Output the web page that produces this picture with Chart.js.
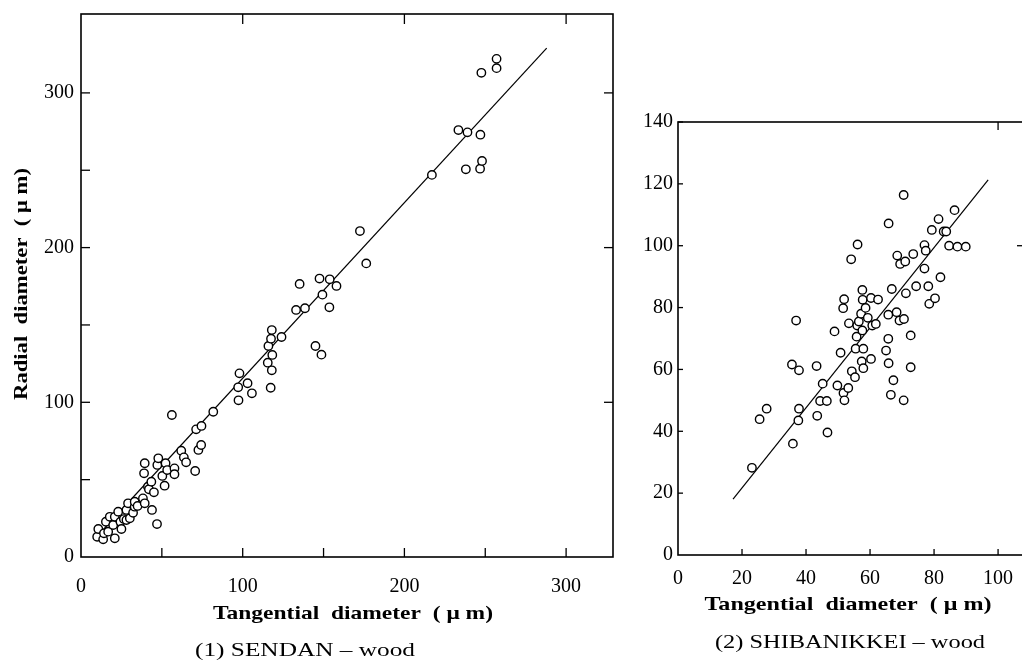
<!DOCTYPE html>
<html><head><meta charset="utf-8">
<script src="https://cdn.jsdelivr.net/npm/chart.js@4/dist/chart.umd.min.js"></script>
<style>
html,body{margin:0;padding:0;background:#fff;width:1022px;height:666px;overflow:hidden;position:relative}
#c1{position:absolute;left:0;top:0}
#c2{position:absolute;left:640px;top:0}
</style></head><body>
<canvas id="c1" width="640" height="666"></canvas>
<canvas id="c2" width="386" height="666"></canvas>
<script>
// ---- (1) SENDAN-wood : [tangential, radial] in µm ----
const sendanPoints = [
 [10,13.1],[10.7,18.1],[13.7,11.4],[14.2,15.3],[15.4,22.8],[16.8,16.4],[17.8,26],[19.9,20.7],
 [20.9,12.1],[20.9,26],[23,29.3],[24.4,22.8],[25,18.1],[26.5,24.5],[28.1,23.9],[28.1,30.4],
 [29.1,34.7],[30.2,25],[32.2,28.6],[33.2,32.5],[33.2,35.7],[35,33],[38.3,37.9],[39,54.1],
 [39.4,60.6],[39.4,34.7],[41.4,45.4],[42,43.8],[43.5,48.7],[43.9,30.4],[45.1,41.8],[47,21.3],
 [47.2,59.5],[47.8,63.8],[50.3,52.4],[51.7,46.1],[52.3,60.6],[53.3,56.2],[56.2,91.8],[57.8,57.3],
 [57.8,53.5],[62,68.7],[63.6,64.4],[65,61.2],[70.6,55.6],[71.2,82.5],[72.6,69.2],[74.3,72.4],
 [74.5,84.7],[81.8,93.9],[97.2,109.7],[97.4,101.3],[98,118.7],[103,112.3],[105.7,105.8],
 [115.5,125.6],[115.9,136.4],[117.3,109.4],[117.5,141.1],[118,146.7],[118,120.7],[118.3,130.6],
 [124,142.2],[133,159.7],[135.2,176.5],[138.5,160.8],[145,136.4],[147.5,180],[148.7,130.8],
 [149.3,169.6],[153.6,161.4],[153.8,179.5],[158,175.2],[172.5,210.7],[176.4,189.8],[217,247],
 [233.4,276],[238,250.6],[239,274.5],[246.8,251],[247,273],[247.6,313],[248,256],[257,316],[257,322]
];
const sendanFit = [[10,13.4],[288,329]];
const sendanXTicks = [0,100,200,300];
const sendanYTicks = [0,100,200,300];
const sendanMinor = [50,150,250];

// ---- (2) SHIBANIKKEI-wood ----
const shibaPoints = [
 [23.1,28.2],[25.5,43.9],[27.7,47.3],[35.6,61.6],[35.9,36],[36.9,75.8],[37.6,43.5],[37.8,47.3],
 [37.8,59.7],[43.3,61.1],[43.5,45],[44.4,49.8],[45.2,55.4],[46.5,49.8],[46.7,39.6],[48.9,72.3],
 [49.8,54.8],[50.8,65.4],[51.6,79.8],[51.7,52.4],[51.9,82.7],[52,50],[53.2,54],[53.4,74.9],
 [54.1,95.6],[54.3,59.4],[55.3,57.5],[55.5,66.7],[55.8,70.6],[56,74.2],[56.1,100.4],[56.5,75.5],
 [57.2,78],[57.4,62.6],[57.6,85.7],[57.6,72.6],[57.7,82.5],[57.9,66.7],[57.9,60.4],[58.6,79.9],
 [59.3,76.7],[60.3,83.1],[60.3,63.4],[60.7,74.2],[61.8,74.7],[62.5,82.6],[65,66.1],[65.7,77.7],
 [65.7,69.9],[65.8,107.2],[65.8,62],[66.5,51.8],[66.8,86],[67.3,56.5],[68.3,78.5],[68.5,96.8],
 [69.2,75.8],[69.4,94.1],[70.5,116.4],[70.5,50],[70.6,76.3],[71,94.9],[71.2,84.6],[72.7,71],
 [72.7,60.7],[73.5,97.3],[74.4,86.9],[77,100.2],[77.4,98.4],[77,92.6],[78.2,86.9],[78.5,81.2],
 [79.3,105.1],[80.3,83],[81.4,108.6],[82,89.8],[83,104.6],[83.8,104.6],[84.7,100],[86.4,111.5],
 [87.3,99.7],[89.9,99.7]
];
const shibaFit = [[17.2,18.1],[96.9,121.3]];
const shibaXTicks = [0,20,40,60,80,100];
const shibaYTicks = [0,20,40,60,80,100,120,140];

const SERIF = "'Liberation Serif', 'DejaVu Serif', serif";
const toXY = a => a.map(p => ({x:p[0], y:p[1]}));

const framePlugin = {
  id:'frame',
  afterDatasetsDraw(chart, args, opts){
    const {ctx, chartArea:a, scales} = chart;
    ctx.save();
    ctx.strokeStyle = '#000';
    ctx.lineWidth = opts.lw || 1.5;
    ctx.strokeRect(a.left, a.top, a.right - a.left, a.bottom - a.top);
    ctx.lineWidth = 1.3;
    (opts.marks || []).forEach(m => {
      m.values.forEach(v => {
        ctx.beginPath();
        if (m.side === 'bottom' || m.side === 'top') {
          const px = scales.x.getPixelForValue(v);
          const y0 = m.side === 'bottom' ? a.bottom : a.top;
          const dir = m.side === 'bottom' ? -1 : 1;
          ctx.moveTo(px, y0); ctx.lineTo(px, y0 + dir * m.len);
        } else {
          const py = scales.y.getPixelForValue(v);
          const x0 = m.side === 'left' ? a.left : a.right;
          const dir = m.side === 'left' ? 1 : -1;
          ctx.moveTo(x0, py); ctx.lineTo(x0 + dir * m.len, py);
        }
        ctx.stroke();
      });
    });
    ctx.restore();
  }
};
const textPlugin = {
  id:'texts',
  afterDraw(chart, args, opts){
    const ctx = chart.ctx;
    (opts.items || []).forEach(it => {
      ctx.save();
      ctx.font = it.font;
      ctx.fillStyle = '#000';
      ctx.textAlign = 'center';
      ctx.textBaseline = 'middle';
      ctx.translate(it.x, it.y);
      if (it.rot) ctx.rotate(it.rot);
      const w = ctx.measureText(it.text).width;
      if (it.w && w > 0) ctx.scale(it.w / w, 1);
      ctx.fillText(it.text, 0, 0);
      ctx.restore();
    });
  }
};

function makeChart(id, cfg){
  return new Chart(document.getElementById(id), {
    type:'scatter',
    data:{datasets:[
      {type:'line', data: toXY(cfg.fit), borderColor:'#000', borderWidth:1.2, pointRadius:0, fill:false, order:2},
      {data: toXY(cfg.points), pointRadius:4.2, pointBackgroundColor:'#fff', pointBorderColor:'#000', pointBorderWidth:1.4, order:1}
    ]},
    options:{
      responsive:false, animation:false, devicePixelRatio:1,
      layout:{autoPadding:false, padding:{top:cfg.padTop, right:cfg.padRight, left:0, bottom:0}},
      plugins:{legend:{display:false}, tooltip:{enabled:false},
        frame:{lw:1.6, marks:cfg.marks}, texts:{items:cfg.texts}},
      scales:{
        x:{type:'linear', min:0, max:cfg.xMax,
           afterBuildTicks: s => { s.ticks = cfg.xTicks.map(v => ({value:v})); },
           afterFit: s => { s.height = cfg.xH; s.paddingLeft = 0; s.paddingRight = 0; },
           grid:{display:false, drawTicks:false}, border:{display:false},
           ticks:{font:{family:SERIF, size:20}, color:'#000', padding:cfg.xPad, maxRotation:0, autoSkip:false}},
        y:{type:'linear', min:0, max:cfg.yMax,
           afterBuildTicks: s => { s.ticks = cfg.yTicks.map(v => ({value:v})); },
           afterFit: s => { s.width = cfg.yW; s.paddingTop = 0; s.paddingBottom = 0; },
           grid:{display:false, drawTicks:false}, border:{display:false},
           ticks:{font:{family:SERIF, size:20}, color:'#000', padding:cfg.yPad, autoSkip:false}}
      }
    },
    plugins:[framePlugin, textPlugin]
  });
}

makeChart('c1', {
  points: sendanPoints, fit: sendanFit, xTicks: sendanXTicks, yTicks: sendanYTicks,
  xMax:329, yMax:351, xH:109, yW:81, padTop:14, padRight:27, xPad:18, yPad:7,
  marks:[
    {side:'bottom', values:sendanXTicks.slice(1).concat(sendanMinor), len:9},
    {side:'top', values:sendanXTicks.slice(1), len:10},
    {side:'left', values:sendanYTicks.slice(1).concat(sendanMinor), len:9},
    {side:'right', values:sendanYTicks.slice(1), len:9}
  ],
  texts:[
    {text:'Tangential  diameter  ( μ m)', x:353, y:614, w:280, font:"bold 19px "+SERIF},
    {text:'(1) SENDAN – wood', x:305, y:651, w:220, font:"19px "+SERIF},
    {text:'Radial  diameter  ( μ m)', x:22, y:284, w:232, rot:-Math.PI/2, font:"bold 19px "+SERIF}
  ]
});

makeChart('c2', {
  points: shibaPoints, fit: shibaFit, xTicks: shibaXTicks, yTicks: shibaYTicks,
  xMax:108.1, yMax:140, xH:111, yW:38, padTop:122, padRight:2, xPad:12, yPad:5,
  marks:[
    {side:'bottom', values:shibaXTicks.slice(1), len:6},
    {side:'top', values:[100], len:8},
    {side:'left', values:shibaYTicks.slice(1), len:5},
    {side:'right', values:[100], len:7}
  ],
  texts:[
    {text:'Tangential  diameter  ( μ m)', x:208, y:605, w:287, font:"bold 19px "+SERIF},
    {text:'(2) SHIBANIKKEI – wood', x:210, y:643, w:270, font:"19px "+SERIF}
  ]
});
</script>
</body></html>
